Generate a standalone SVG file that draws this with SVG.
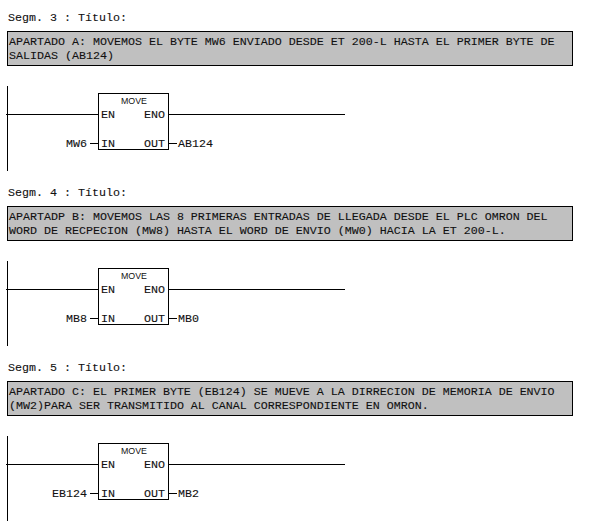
<svg xmlns="http://www.w3.org/2000/svg" width="601" height="531" viewBox="0 0 601 531">
<style>
.m{font-family:"Liberation Mono","Courier New",monospace;font-size:11.67px;fill:#111;stroke:#111;stroke-width:.1}
.t{font-family:"Liberation Sans",Arial,sans-serif;font-size:9.8px;fill:#111;text-anchor:middle}
.c{fill:#c0c0c0;stroke:#000;stroke-width:1}
.b{fill:#fff;stroke:#000;stroke-width:1}
.w{fill:none;stroke:#000;stroke-width:1}
.e{text-anchor:end}
</style>
<rect width="601" height="531" fill="#fff"/>
<g id="segment3">
<text class="m" x="8" y="21">Segm. 3 : Título:</text>
<g id="comment3"><rect class="c" x="7.5" y="31.5" width="565" height="34"/>
<text class="m" x="9" y="44.500">APARTADO A: MOVEMOS EL BYTE MW6 ENVIADO DESDE ET 200-L HASTA EL PRIMER BYTE DE</text>
<text class="m" x="9" y="58.500">SALIDAS (AB124)</text></g>
<g id="connectors3"><path class="w" d="M7.500 86V171M6 114.500H98M169 114.500H345M90 143.500H98M169 143.500H177"/></g>
<g id="move3"><rect class="b" x="98.500" y="93.500" width="70" height="56"/>
<text class="t" x="134" y="104" textLength="26" lengthAdjust="spacingAndGlyphs">MOVE</text>
<text class="m" x="101" y="118">EN</text><text class="m e" x="165" y="118">ENO</text>
<text class="m" x="101" y="146.500">IN</text><text class="m e" x="165" y="146.500">OUT</text></g>
<text class="m e" x="87" y="146.500">MW6</text><text class="m" x="178" y="146.500">AB124</text>
</g>
<g id="segment4">
<text class="m" x="8" y="196">Segm. 4 : Título:</text>
<g id="comment4"><rect class="c" x="7.5" y="206.5" width="565" height="34"/>
<text class="m" x="9" y="219.500">APARTADP B: MOVEMOS LAS 8 PRIMERAS ENTRADAS DE LLEGADA DESDE EL PLC OMRON DEL</text>
<text class="m" x="9" y="233.500">WORD DE RECPECION (MW8) HASTA EL WORD DE ENVIO (MW0) HACIA LA ET 200-L.</text></g>
<g id="connectors4"><path class="w" d="M7.500 261V346M6 289.500H98M169 289.500H345M90 318.500H98M169 318.500H177"/></g>
<g id="move4"><rect class="b" x="98.500" y="268.500" width="70" height="56"/>
<text class="t" x="134" y="279" textLength="26" lengthAdjust="spacingAndGlyphs">MOVE</text>
<text class="m" x="101" y="293">EN</text><text class="m e" x="165" y="293">ENO</text>
<text class="m" x="101" y="321.500">IN</text><text class="m e" x="165" y="321.500">OUT</text></g>
<text class="m e" x="87" y="321.500">MB8</text><text class="m" x="178" y="321.500">MB0</text>
</g>
<g id="segment5">
<text class="m" x="8" y="371">Segm. 5 : Título:</text>
<g id="comment5"><rect class="c" x="7.5" y="381.5" width="565" height="34"/>
<text class="m" x="9" y="394.500">APARTADO C: EL PRIMER BYTE (EB124) SE MUEVE A LA DIRRECION DE MEMORIA DE ENVIO</text>
<text class="m" x="9" y="408.500">(MW2)PARA SER TRANSMITIDO AL CANAL CORRESPONDIENTE EN OMRON.</text></g>
<g id="connectors5"><path class="w" d="M7.500 436V521M6 464.500H98M169 464.500H345M90 493.500H98M169 493.500H177"/></g>
<g id="move5"><rect class="b" x="98.500" y="443.500" width="70" height="56"/>
<text class="t" x="134" y="454" textLength="26" lengthAdjust="spacingAndGlyphs">MOVE</text>
<text class="m" x="101" y="468">EN</text><text class="m e" x="165" y="468">ENO</text>
<text class="m" x="101" y="496.500">IN</text><text class="m e" x="165" y="496.500">OUT</text></g>
<text class="m e" x="87" y="496.500">EB124</text><text class="m" x="178" y="496.500">MB2</text>
</g>
</svg>
